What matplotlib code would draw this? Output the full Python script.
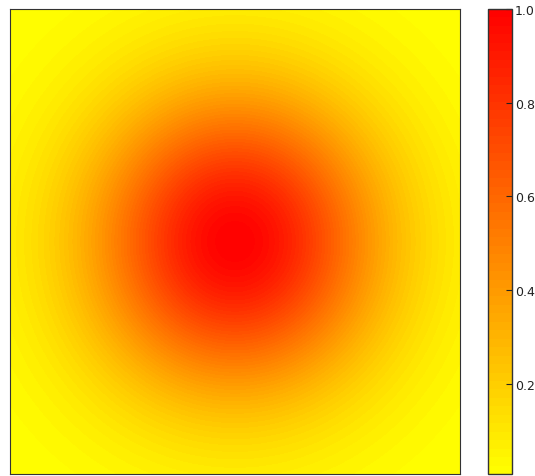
import matplotlib
matplotlib.use("Agg")
import matplotlib.pyplot as plt
import numpy as np

# grid extent and gaussian parameters
x_range = [-1.0, 1.0]
y_range = [-1.0, 1.0]
center = [0.0, 0.0]
sigma = 0.45
n_points = 201  # odd so the peak lands on a grid point
n_levels = 55
cbar_ticks = [0.2, 0.4, 0.6, 0.8, 1.0]

x = np.linspace(x_range[0], x_range[1], n_points)
y = np.linspace(y_range[0], y_range[1], n_points)
X, Y = np.meshgrid(x, y)
Z = np.exp(-((X - center[0])**2 + (Y - center[1])**2) / (2 * sigma**2))
levels = np.linspace(Z.min(), Z.max(), n_levels + 1)

fig = plt.figure(figsize=(5.35, 4.77), dpi=100)
ax = fig.add_axes([0.0187, 0.0042, 0.8411, 0.9748])
cax = fig.add_axes([0.912, 0.0042, 0.045, 0.9748])

cf = ax.contourf(X, Y, Z, levels=levels, cmap="autumn_r")
ax.set_xticks([])
ax.set_yticks([])
for s in ax.spines.values():
    s.set_color("#333333")

cb = fig.colorbar(cf, cax=cax, ticks=cbar_ticks)
cb.ax.tick_params(direction="in", length=4, labelsize=9, pad=2, colors="#222222")
cb.outline.set_linewidth(1)
cb.outline.set_edgecolor("#333333")

fig.savefig("out.png", dpi=100)
